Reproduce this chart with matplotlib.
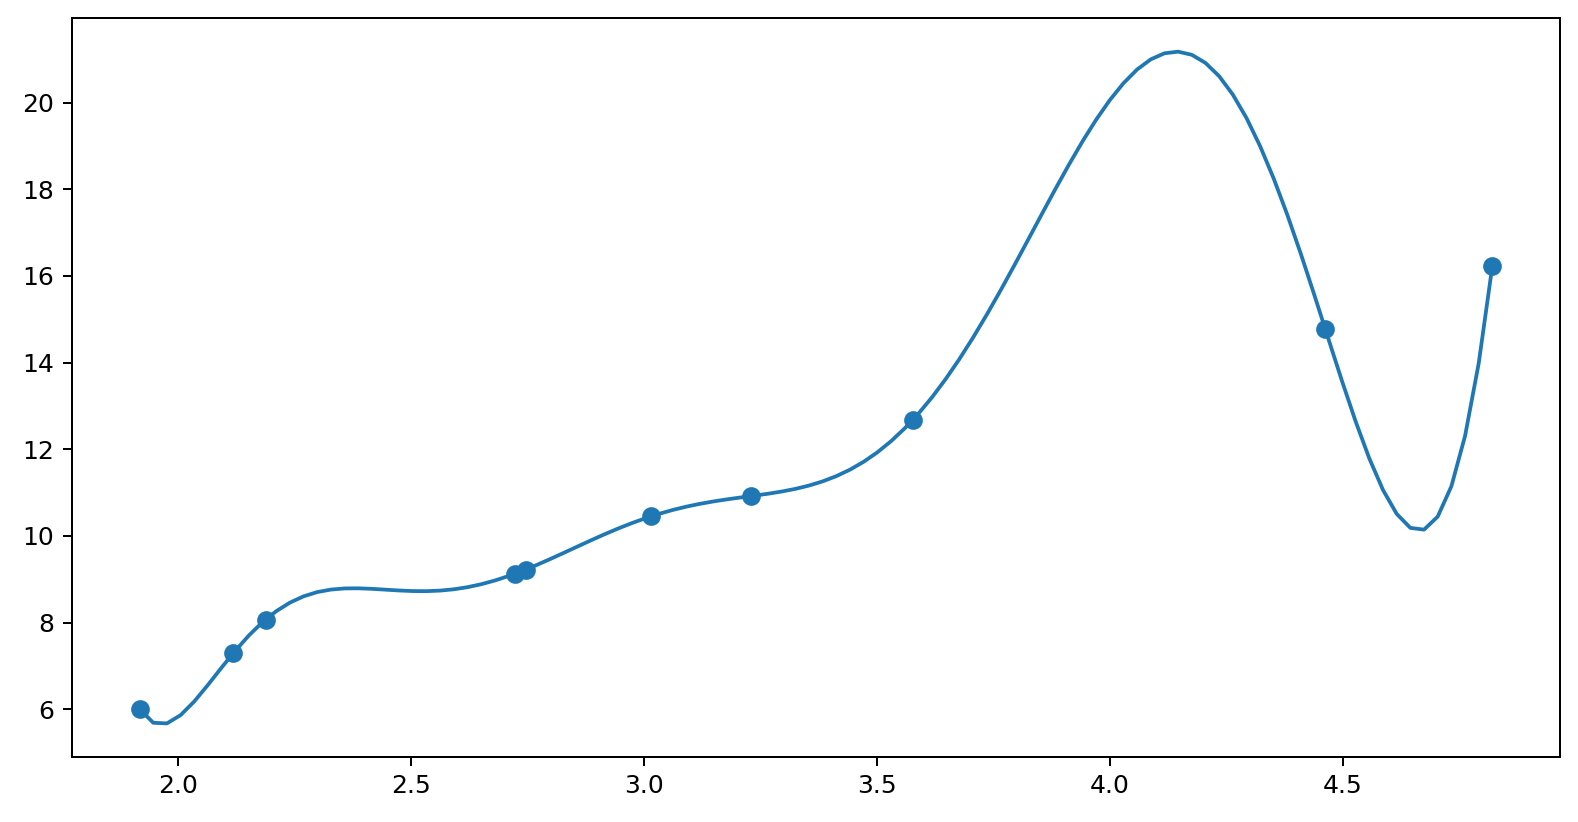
import numpy as np
import matplotlib
matplotlib.use("Agg")
import matplotlib.pyplot as plt

x_data = [1.9181, 2.1188, 2.1883, 2.7242, 2.7467, 3.0148, 3.2290, 3.5768, 4.4620, 4.8202]
y_data = [6.008, 7.293, 8.071, 9.132, 9.226, 10.451, 10.919, 12.678, 14.765, 16.235]
n_curve = 100
poly_degree = 9

# polynomial through the points, evaluated on an even grid
poly = np.polynomial.Polynomial.fit(x_data, y_data, poly_degree)
xs = np.linspace(min(x_data), max(x_data), n_curve)
ys = poly(xs)

fig = plt.figure(figsize=(1578 / 180, 822 / 180), dpi=180)
ax = fig.add_subplot(111)
fig.subplots_adjust(left=0.0456, right=0.9886, top=0.978, bottom=0.0791)
ax.plot(xs, ys, color="C0", linewidth=1.5)
ax.scatter(x_data, y_data, s=56, linewidths=0, color="C0", zorder=3)
fig.savefig("out.png", dpi=180)
